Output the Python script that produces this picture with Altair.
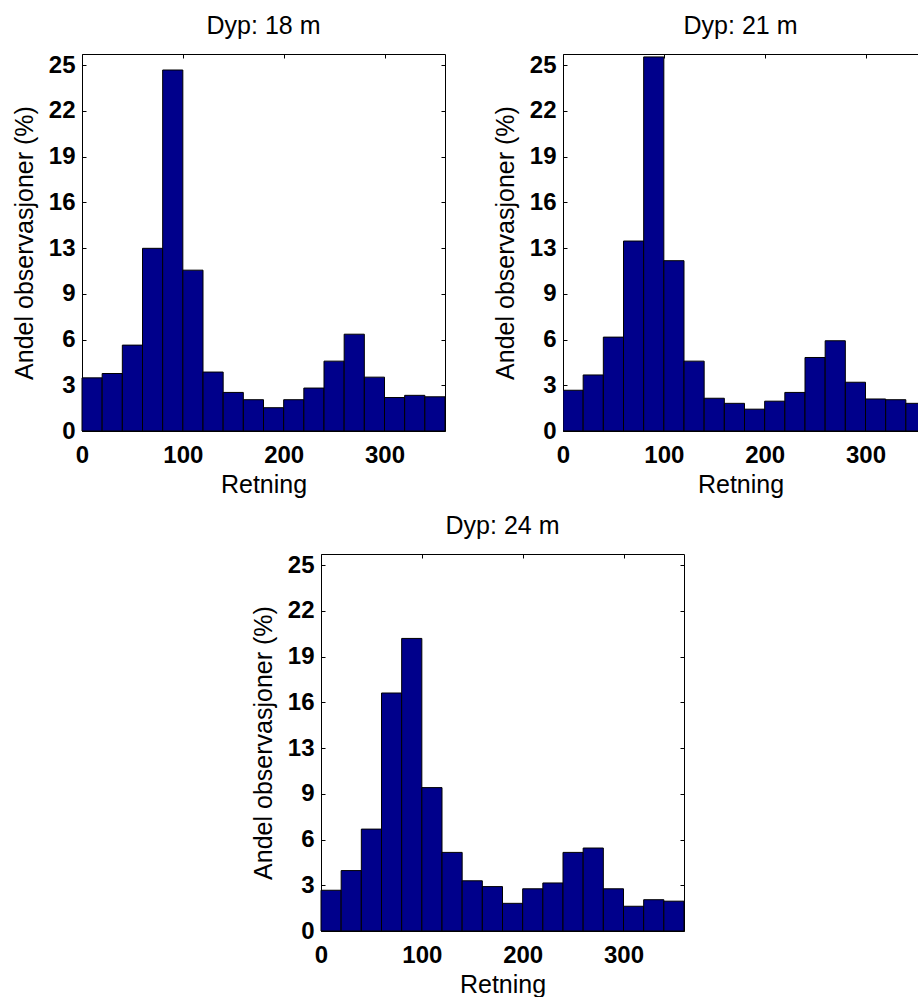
import math

import altair as alt
import pandas as pd

# 20-degree direction bins, 0..360
bin_edges = list(range(0, 361, 20))
bin_start = bin_edges[:-1]
bin_end = bin_edges[1:]

# share of observations (%) per direction bin
depth_18 = [3.65, 3.95, 5.9, 12.55, 24.8, 11.05, 4.05, 2.65, 2.15, 1.6,
            2.15, 2.95, 4.8, 6.65, 3.7, 2.3, 2.45, 2.35]
depth_21 = [2.8, 3.85, 6.45, 13.05, 25.7, 11.7, 4.8, 2.25, 1.9, 1.5,
            2.05, 2.65, 5.05, 6.2, 3.35, 2.2, 2.15, 1.9]
depth_24 = [2.8, 4.15, 7.0, 16.35, 20.1, 9.85, 5.4, 3.45, 3.05, 1.9,
            2.9, 3.3, 5.4, 5.7, 2.9, 1.7, 2.15, 2.05]

titles = ["Dyp: 18 m", "Dyp: 21 m", "Dyp: 24 m"]
x_ticks = [0, 100, 200, 300]
y_ticks = [k * math.pi for k in range(9)]
y_max = 25.9

FONT = "Liberation Sans"
BAR = "#00008B"
W, H = 363, 377
PX_PER_DEG = W / 360
W_CUT = 355  # the 21 m panel runs off the right edge of the page


def base(values, title):
    df = pd.DataFrame({"start": bin_start, "end": bin_end, "andel": values})
    return alt.Chart(
        df,
        title=alt.TitleParams(
            title, fontSize=25, fontWeight="normal", font=FONT,
            color="black", offset=14, frame="group",
        ),
    )


def y_enc(axis):
    return alt.Y("andel:Q", scale=alt.Scale(domain=[0, y_max], nice=False), axis=axis)


def panel(values, title):
    return (
        base(values, title)
        .mark_rect(fill=BAR, stroke="black", strokeWidth=1)
        .encode(
            x=alt.X(
                "start:Q",
                scale=alt.Scale(domain=[0, 360], nice=False, zero=False),
                axis=alt.Axis(values=x_ticks, title="Retning"),
            ),
            x2="end:Q",
            y=y_enc(alt.Axis(
                values=y_ticks,
                labelExpr="format(round(datum.value), 'd')",
                title="Andel observasjoner (%)",
            )),
            y2=alt.datum(0),
        )
        .properties(width=W, height=H)
    )


def cut_panel(values, title):
    x_max = W_CUT / PX_PER_DEG
    xscale = alt.Scale(domain=[0, x_max], nice=False, zero=False)
    cut_y_axis = alt.Axis(
        values=y_ticks,
        labelExpr="format(round(datum.value), 'd')",
        title="Andel observasjoner (%)",
        domain=True, domainColor="black", domainWidth=1,
        gridDash=[4, 2000],
    )
    b = base(values, title)
    bars = b.mark_rect(fill=BAR, stroke="black", strokeWidth=1, clip=True).encode(
        x=alt.X(
            "start:Q", scale=xscale,
            axis=alt.Axis(values=x_ticks, title="Retning", domain=True,
                          domainColor="black", domainWidth=1),
        ),
        x2="end:Q",
        y=y_enc(cut_y_axis),
        y2=alt.datum(0),
    )
    # top frame line
    frame_top = b.mark_rect(opacity=0, clip=True).encode(
        x=alt.X(
            "start:Q", scale=xscale,
            axis=alt.Axis(orient="top", labels=False, ticks=False, grid=False,
                          title=None, domain=True, domainColor="black",
                          domainWidth=1),
        ),
        x2="end:Q",
        y=y_enc(cut_y_axis),
        y2=alt.datum(0),
    )
    return (
        alt.layer(bars, frame_top)
        .resolve_axis(x="independent")
        .properties(width=W_CUT, height=H, view=alt.ViewBackground(stroke=None))
    )


p18 = panel(depth_18, titles[0])
p21 = cut_panel(depth_21, titles[1])
p24 = panel(depth_24, titles[2])

spacer = (
    alt.Chart(pd.DataFrame({"v": [0]}))
    .mark_point(opacity=0)
    .encode(x=alt.value(0), y=alt.value(0))
    .properties(width=168, height=1, view=alt.ViewBackground(stroke=None))
)

top_row = alt.hconcat(p18, p21, spacing=47)
bottom_row = alt.hconcat(spacer, p24, spacing=0)

chart = (
    alt.vconcat(top_row, bottom_row, spacing=15)
    .properties(
        padding={"left": 11, "top": 13, "right": 0, "bottom": 0},
        background="white",
    )
    .configure_view(stroke="black", strokeWidth=1)
    .configure_axis(
        labelFont=FONT,
        labelFontSize=24,
        labelFontWeight="bold",
        labelColor="black",
        labelFlush=False,
        labelOverlap=False,
        titleFont=FONT,
        titleFontSize=25,
        titleFontWeight="normal",
        titleColor="black",
        ticks=False,
        domain=False,
        grid=True,
        gridColor="black",
        gridOpacity=1,
        gridWidth=1,
    )
    .configure_axisX(labelPadding=12, titlePadding=5, gridDash=[4, H - 8, 4, 2000])
    .configure_axisY(labelPadding=7, titlePadding=11, gridDash=[4, W - 8, 4, 2000])
)

chart.save("out.html", embed_options={"renderer": "svg", "actions": False})
